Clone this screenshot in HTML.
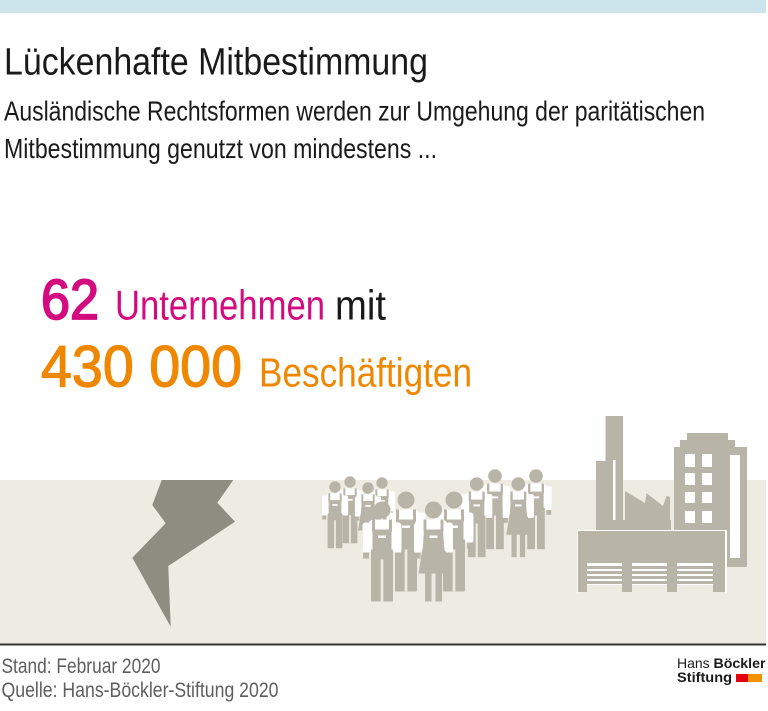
<!DOCTYPE html>
<html><head><meta charset="utf-8"><style>
html,body{margin:0;padding:0;background:#fff;}
svg{display:block;}
text{font-family:"Liberation Sans",Arial,sans-serif;}
</style></head><body>
<svg width="768" height="711" viewBox="0 0 768 711" xmlns="http://www.w3.org/2000/svg">
<defs>
<g id="m">
<circle cx="0" cy="8.5" r="8.5" fill="#b8b5a8"/>
<rect x="-14" y="18" width="28" height="33" rx="6" fill="#fff"/>
<rect x="-19.5" y="21" width="7.5" height="31" rx="3" fill="#fff"/>
<rect x="12" y="21" width="7.5" height="31" rx="3" fill="#fff"/>
<rect x="-19" y="51" width="6" height="6" fill="#b8b5a8"/>
<rect x="13" y="51" width="6" height="6" fill="#b8b5a8"/>
<rect x="-10" y="18" width="3" height="12" fill="#b8b5a8"/>
<rect x="7" y="18" width="3" height="12" fill="#b8b5a8"/>
<rect x="-9.5" y="28" width="19" height="24" fill="#b8b5a8"/>
<rect x="-4" y="34" width="8" height="2.5" fill="#fff"/>
<rect x="-11" y="48" width="22" height="10" fill="#b8b5a8"/>
<rect x="-11" y="55" width="9.7" height="45" fill="#b8b5a8"/>
<rect x="1.3" y="55" width="9.7" height="45" fill="#b8b5a8"/>
</g>
<g id="f">
<circle cx="0" cy="8.5" r="8.5" fill="#b8b5a8"/>
<rect x="-14" y="18" width="28" height="33" rx="6" fill="#fff"/>
<rect x="-19.5" y="21" width="7.5" height="31" rx="3" fill="#fff"/>
<rect x="12" y="21" width="7.5" height="31" rx="3" fill="#fff"/>
<rect x="-19" y="51" width="6" height="6" fill="#b8b5a8"/>
<rect x="13" y="51" width="6" height="6" fill="#b8b5a8"/>
<rect x="-10" y="18" width="3" height="12" fill="#b8b5a8"/>
<rect x="7" y="18" width="3" height="12" fill="#b8b5a8"/>
<polygon points="-9.5,28 9.5,28 10.5,44 15,72 -15,72 -10.5,44" fill="#b8b5a8"/>
<rect x="-4" y="34" width="8" height="2.5" fill="#fff"/>
<rect x="-8.5" y="70" width="6.5" height="30" fill="#b8b5a8"/>
<rect x="2" y="70" width="6.5" height="30" fill="#b8b5a8"/>
</g>
</defs>

<!-- top bar -->
<rect x="0" y="0" width="766" height="13" fill="#cce4eb"/>

<!-- titles -->
<text x="4" y="74.5" font-size="38" fill="#1a1a1a" textLength="424" lengthAdjust="spacingAndGlyphs">Lückenhafte Mitbestimmung</text>
<text x="4" y="120.5" font-size="28" fill="#1a1a1a" textLength="701" lengthAdjust="spacingAndGlyphs">Ausländische Rechtsformen werden zur Umgehung der paritätischen</text>
<text x="4" y="158" font-size="28" fill="#1a1a1a" textLength="433" lengthAdjust="spacingAndGlyphs">Mitbestimmung genutzt von mindestens ...</text>

<!-- big numbers -->
<text x="41" y="319" font-size="57" fill="#d40b7f" stroke="#d40b7f" stroke-width="1.8" textLength="58" lengthAdjust="spacingAndGlyphs">62</text>
<text x="115" y="319.5" font-size="42" fill="#d40b7f" textLength="210" lengthAdjust="spacingAndGlyphs">Unternehmen</text>
<text x="335" y="319.5" font-size="42" fill="#1a1a1a" textLength="51" lengthAdjust="spacingAndGlyphs">mit</text>
<text x="41" y="386.5" font-size="58" fill="#f08700" stroke="#f08700" stroke-width="1.2" textLength="201" lengthAdjust="spacingAndGlyphs">430 000</text>
<text x="259" y="386.5" font-size="41" fill="#f08700" textLength="213" lengthAdjust="spacingAndGlyphs">Beschäftigten</text>

<!-- beige ground -->
<rect x="0" y="480" width="766" height="164" fill="#edebe2"/>

<!-- lightning -->
<polygon points="161.7,480 233.3,480 217.3,502.7 235,521.7 168.3,566 170.7,626.7 132.3,557.7 165.7,523.3 152.3,505" fill="#8f8d82"/>

<!-- workers back row -->
<use href="#m" transform="translate(350,476.3) scale(0.67)"/>
<use href="#m" transform="translate(382,477.3) scale(0.67)"/>
<use href="#m" transform="translate(335,481.3) scale(0.67)"/>
<use href="#f" transform="translate(368,482.3) scale(0.67)"/>
<!-- right group -->
<use href="#m" transform="translate(495,469.2) scale(0.8)"/>
<use href="#m" transform="translate(536,469.2) scale(0.8)"/>
<use href="#m" transform="translate(476.7,477.2) scale(0.8)"/>
<use href="#f" transform="translate(518.3,477.2) scale(0.8)"/>
<!-- front -->
<use href="#m" transform="translate(406,491.5) scale(1)"/>
<use href="#m" transform="translate(454,491.5) scale(1)"/>
<use href="#m" transform="translate(382,501.5) scale(1)"/>
<use href="#f" transform="translate(433.5,501.5) scale(1)"/>

<!-- factory -->
<g fill="#b8b5a8">
<rect x="605.5" y="416" width="17.5" height="112"/>
<rect x="613" y="460" width="2.5" height="68" fill="#fff"/>
<rect x="596" y="461" width="17" height="67"/>
<polygon points="625,528 625,491 645,503 646.5,493 663,506 666.5,496 670,497 670,528"/>
<rect x="596" y="520" width="75" height="10"/>
<!-- office building -->
<rect x="687" y="433" width="41" height="8"/>
<rect x="680" y="440" width="55" height="8"/>
<rect x="674" y="447" width="73" height="120"/>
</g>
<g fill="#fff">
<rect x="685" y="454" width="10" height="13"/>
<rect x="702" y="454" width="10" height="13"/>
<rect x="685" y="473" width="10" height="12"/>
<rect x="702" y="473" width="10" height="12"/>
<rect x="685" y="492" width="10" height="11"/>
<rect x="702" y="492" width="10" height="11"/>
<rect x="685" y="511" width="10" height="12"/>
<rect x="702" y="511" width="10" height="12"/>
<rect x="730" y="455" width="10" height="103"/>
</g>
<!-- front factory -->
<rect x="577" y="530" width="150" height="63" fill="#fff"/>
<rect x="578" y="531" width="147" height="32" fill="#b8b5a8"/>
<rect x="578" y="585" width="147" height="8" fill="#edebe2"/>
<g fill="#b8b5a8">
<rect x="578" y="531" width="9" height="61"/>
<rect x="622" y="531" width="10" height="61"/>
<rect x="667" y="531" width="10" height="61"/>
<rect x="713" y="531" width="12" height="61"/>
<rect x="587" y="566" width="126" height="3"/>
<rect x="587" y="571" width="126" height="3"/>
<rect x="587" y="576" width="126" height="3"/>
<rect x="587" y="581" width="126" height="3"/>
</g>

<!-- bottom line -->
<rect x="0" y="643.5" width="766" height="2" fill="#333"/>

<!-- footer -->
<text x="1.5" y="673" font-size="21" fill="#5e5e5e" textLength="159" lengthAdjust="spacingAndGlyphs">Stand: Februar 2020</text>
<text x="1.5" y="697" font-size="21" fill="#5e5e5e" textLength="277" lengthAdjust="spacingAndGlyphs">Quelle: Hans-Böckler-Stiftung 2020</text>

<!-- logo -->
<text x="677" y="668" font-size="14" fill="#1a1a1a">Hans</text>
<text x="713.5" y="668" font-size="14" font-weight="bold" fill="#1a1a1a" textLength="52" lengthAdjust="spacingAndGlyphs">Böckler</text>
<text x="677" y="682" font-size="14" font-weight="bold" fill="#1a1a1a" textLength="55" lengthAdjust="spacingAndGlyphs">Stiftung</text>
<rect x="736" y="674" width="12" height="8" fill="#e3000f"/>
<rect x="748" y="674" width="14" height="8" fill="#f39200"/>
</svg>
</body></html>
